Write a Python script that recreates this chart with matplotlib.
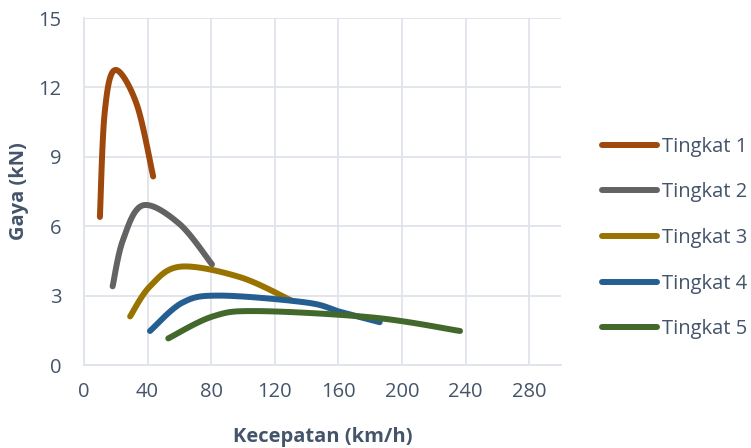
import numpy as np
import matplotlib
matplotlib.use("Agg")
import matplotlib.pyplot as plt

# Gaya dorong tiap tingkat gigi terhadap kecepatan kendaraan
labels = ["Tingkat 1", "Tingkat 2", "Tingkat 3", "Tingkat 4", "Tingkat 5"]
speed_1 = [10, 13, 19.5, 33, 43.5]
force_1 = [6.4, 10.9, 12.75, 11.3, 8.15]
speed_2 = [18, 24.5, 37, 60, 80.5]
force_2 = [3.4, 5.4, 6.9, 6.1, 4.35]
speed_3 = [29, 41.5, 60.5, 98, 130]
force_3 = [2.1, 3.4, 4.25, 3.8, 2.8]
speed_4 = [41.5, 62, 85.5, 140, 161, 186]
force_4 = [1.47, 2.7, 3.0, 2.7, 2.3, 1.85]
speed_5 = [53, 81, 109, 182, 236.5]
force_5 = [1.15, 2.1, 2.33, 2.05, 1.47]

speeds = [speed_1, speed_2, speed_3, speed_4, speed_5]
forces = [force_1, force_2, force_3, force_4, force_5]
colors = ["#9e480e", "#636363", "#997300", "#255e91", "#43682b"]

x_ticks = [0, 40, 80, 120, 160, 200, 240, 280]
y_ticks = [0, 3, 6, 9, 12, 15]


def smooth(x, y, n=30, tension=0.5):
    """Cardinal-spline path through the given points (smoothed line)."""
    x = np.asarray(x, float)
    y = np.asarray(y, float)
    px = np.concatenate([[x[0]], x, [x[-1]]])
    py = np.concatenate([[y[0]], y, [y[-1]]])
    xs, ys = [], []
    t = np.linspace(0, 1, n)
    for i in range(1, len(px) - 2):
        m1x = tension * (px[i + 1] - px[i - 1])
        m1y = tension * (py[i + 1] - py[i - 1])
        m2x = tension * (px[i + 2] - px[i])
        m2y = tension * (py[i + 2] - py[i])
        h00 = 2 * t**3 - 3 * t**2 + 1
        h10 = t**3 - 2 * t**2 + t
        h01 = -2 * t**3 + 3 * t**2
        h11 = t**3 - t**2
        xs.append(h00 * px[i] + h10 * m1x + h01 * px[i + 1] + h11 * m2x)
        ys.append(h00 * py[i] + h10 * m1y + h01 * py[i + 1] + h11 * m2y)
    return np.concatenate(xs), np.concatenate(ys)


text_color = "#44546a"
grid_color = "#dfe3ea"
plt.rcParams["font.family"] = ["Open Sans", "DejaVu Sans"]

fig = plt.figure(figsize=(7.51, 4.48), dpi=100)
ax = fig.add_axes([84 / 751, 1 - 365 / 448, (561 - 84) / 751, (365 - 18) / 448])

for sx, fy, c, lab in zip(speeds, forces, colors, labels):
    xs, ys = smooth(sx, fy)
    ax.plot(xs, ys, color=c, lw=4.3, solid_capstyle="round", label=lab)

ax.set_xlim(0, 300)
ax.set_ylim(0, 15)
ax.set_xticks(x_ticks)
ax.set_yticks(y_ticks)
ax.grid(True, color=grid_color, lw=1.3)
ax.set_axisbelow(True)
for s in ["top", "right"]:
    ax.spines[s].set_visible(False)
for s in ["left", "bottom"]:
    ax.spines[s].set_color(grid_color)
    ax.spines[s].set_linewidth(1.3)
ax.tick_params(length=0, labelsize=14.5, colors=text_color)
ax.tick_params(axis="x", pad=12)
ax.tick_params(axis="y", pad=16)

ax.set_xlabel("Kecepatan (km/h)", fontsize=14.5, fontweight="bold", color=text_color, labelpad=18)
ax.set_ylabel("Gaya (kN)", fontsize=14.5, fontweight="bold", color=text_color, labelpad=7)

leg = ax.legend(loc="center left", bbox_to_anchor=(584 / 751, 1 - 238 / 448), bbox_transform=fig.transFigure,
                frameon=False, fontsize=14.5, handlelength=2.7, handletextpad=0.25,
                labelspacing=1.27, labelcolor=text_color)

fig.savefig("out.png", dpi=100)
